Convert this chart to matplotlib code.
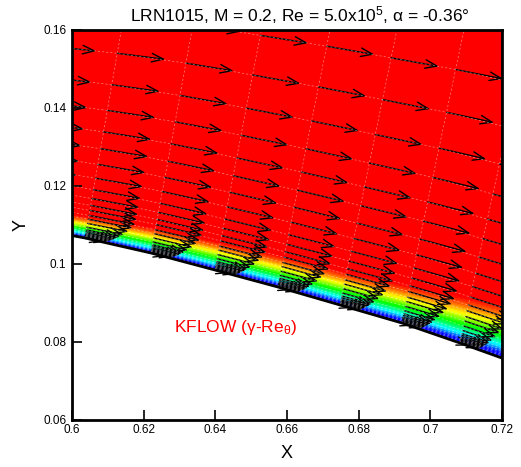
import numpy as np
import matplotlib
matplotlib.use('Agg')
import matplotlib.pyplot as plt
from matplotlib.colors import LinearSegmentedColormap
from matplotlib.patches import FancyArrowPatch

plt.rcParams['font.family'] = ['Liberation Sans', 'DejaVu Sans']
plt.rcParams['mathtext.fontset'] = 'custom'
plt.rcParams['mathtext.rm'] = 'Liberation Sans'
plt.rcParams['mathtext.it'] = 'Liberation Sans'

# surface grid stations (x, y on the airfoil upper surface)
st_x = [0.5855, 0.60363, 0.62205, 0.63991, 0.65749, 0.6748, 0.6921, 0.70829, 0.7245]
st_y = [0.1098, 0.10667, 0.10282, 0.09846, 0.0941, 0.08949, 0.08487, 0.07974, 0.0744]
# tilt of the wall-normal grid lines (dx/dy) and their stretching
st_tilt = [0.17, 0.19, 0.20, 0.21, 0.22, 0.225, 0.23, 0.24, 0.25]
st_scale = [0.97, 1.0, 1.03, 1.06, 1.09, 1.12, 1.15, 1.18, 1.21]
# boundary layer thickness at each station
st_delta = [0.0052, 0.0058, 0.0066, 0.0072, 0.0076, 0.0080, 0.0088, 0.0104, 0.0125]

# wall distances of the grid rows
rows_n = [0.0002, 0.0004, 0.0007, 0.0010, 0.0013, 0.0017, 0.0021, 0.0028, 0.0038,
          0.0049, 0.0059, 0.0072, 0.0085, 0.0103, 0.0126, 0.0156, 0.0192, 0.0233,
          0.0277, 0.0333, 0.0400, 0.0482, 0.058, 0.070, 0.084, 0.100]

# velocity profile u/U vs n/delta
prof_eta = [0.0, 0.04, 0.2, 0.4, 0.6, 0.8, 1.0, 1.3, 30.0]
prof_u = [0.0, 0.45, 0.60, 0.73, 0.84, 0.92, 0.98, 1.0, 1.0]

xticks = [0.6, 0.62, 0.64, 0.66, 0.68, 0.7, 0.72]
xtick_labels = ['0.6', '0.62', '0.64', '0.66', '0.68', '0.7', '0.72']
yticks = [0.06, 0.08, 0.1, 0.12, 0.14, 0.16]
ytick_labels = ['0.06', '0.08', '0.1', '0.12', '0.14', '0.16']

title = 'LRN1015, M = 0.2, Re = 5.0x10$^5$, α = -0.36°'


def mesh(t, n):
    idx = np.arange(len(st_x))
    xs = np.interp(t, idx, st_x)
    ys = np.interp(t, idx, st_y)
    tl = np.interp(t, idx, st_tilt)
    g = np.interp(t, idx, st_scale)
    d = np.interp(t, idx, st_delta)
    N = np.broadcast_to(np.asarray(n)[None, :], (len(t), len(n)))
    norm = np.sqrt(1 + tl ** 2)
    X = xs[:, None] + N * g[:, None] * tl[:, None] / norm[:, None]
    Y = ys[:, None] + N * g[:, None] / norm[:, None]
    U = np.interp(N / d[:, None], prof_eta, prof_u)
    return X, Y, U


cmap = LinearSegmentedColormap.from_list(
    'small_rainbow', ['#0000ff', '#00ffff', '#00ff00', '#ffff00', '#ff0000'])

fig = plt.figure(figsize=(5.21, 4.67), dpi=100)
ax = fig.add_axes([72 / 521, 47 / 467, 430 / 521, 390 / 467])

# contour of velocity magnitude
tf = np.linspace(0, len(st_x) - 1, 300)
nf = np.concatenate([np.linspace(0, 0.02, 240), np.linspace(0.0205, 0.12, 60)])
Xf, Yf, Uf = mesh(tf, nf)
ax.contourf(Xf, Yf, Uf, levels=np.linspace(0.5, 0.97, 41), cmap=cmap, extend='both')

# grid lines
ti = np.arange(len(st_x), dtype=float)
Xg, Yg, Ug = mesh(ti, rows_n)
tl_fine = np.linspace(0, len(st_x) - 1, 200)
Xl, Yl, _ = mesh(tl_fine, rows_n)
for j in range(len(rows_n)):
    ax.plot(Xl[:, j], Yl[:, j], color='white', lw=0.5, ls=(0, (3, 3)), alpha=0.5)
for i in range(len(st_x)):
    ax.plot(np.r_[st_x[i], Xg[i]], np.r_[st_y[i], Yg[i]], color='white', lw=0.5,
            ls=(0, (3, 3)), alpha=0.5)

# velocity vectors
dX = np.gradient(Xl, axis=0)
dY = np.gradient(Yl, axis=0)
L = 0.0135
for i in range(len(st_x)):
    k = int(round(i * 199 / (len(st_x) - 1)))
    for j in range(len(rows_n)):
        ex, ey = dX[k, j], dY[k, j]
        mag = np.hypot(ex, ey)
        x0, y0 = Xg[i, j], Yg[i, j]
        u = Ug[i, j] * L
        arr = FancyArrowPatch((x0, y0), (x0 + u * ex / mag, y0 + u * ey / mag),
                              arrowstyle='->,head_length=0.6,head_width=0.22',
                              mutation_scale=14, lw=1.0, color='black',
                              shrinkA=0, shrinkB=0)
        ax.add_patch(arr)

# airfoil surface
ax.plot(st_x, st_y, color='black', lw=2)

ax.text(0.6285, 0.0837, r'KFLOW ($\gamma$-Re$_{\theta}$)', color='red', fontsize=12.5,
        va='center')

ax.set_xlim(0.6, 0.72)
ax.set_ylim(0.06, 0.16)
ax.set_xticks(xticks)
ax.set_xticklabels(xtick_labels)
ax.set_yticks(yticks)
ax.set_yticklabels(ytick_labels)
ax.tick_params(direction='in', length=7, width=1.2, labelsize=8.5)
ax.tick_params(axis='x', pad=3)
ax.tick_params(axis='y', pad=4)
for s in ax.spines.values():
    s.set_linewidth(2)
    s.set_zorder(10)
ax.set_xlabel('X', fontsize=13, labelpad=6)
ax.set_ylabel('Y', fontsize=13, labelpad=10)
fig.text(300 / 521, 1 - 15 / 467, title, ha='center', va='center', fontsize=12.5)

fig.savefig('out.png', dpi=100)
